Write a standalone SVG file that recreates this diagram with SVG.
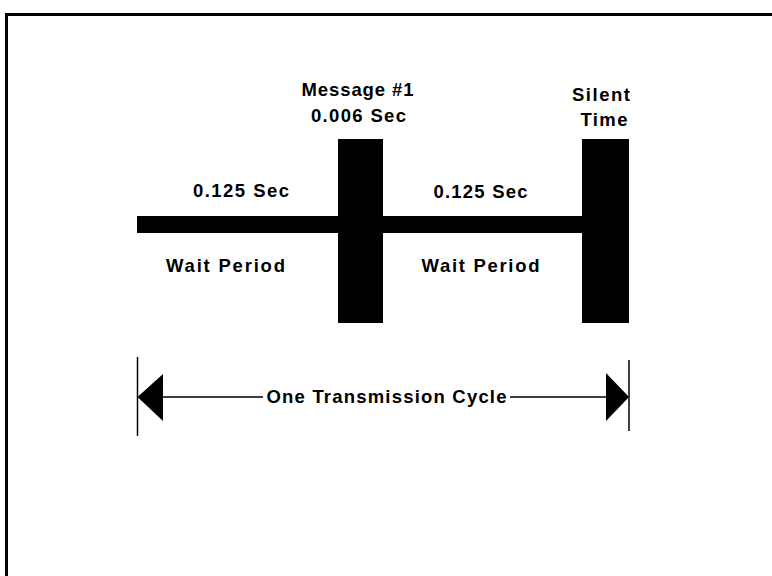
<svg xmlns="http://www.w3.org/2000/svg" width="772" height="576" viewBox="0 0 772 576">
<style>
.t{font-family:"Liberation Sans",Arial,sans-serif;font-weight:bold;font-size:18.5px;fill:#000}
.blk{fill:#000}
.ln{stroke:#000;stroke-width:1.5;fill:none}
</style>
<rect x="0" y="0" width="772" height="576" fill="#fff"/>
<rect x="6.5" y="14.5" width="800" height="600" fill="none" stroke="#000" stroke-width="3"/>
<g id="connectors">
<rect x="137" y="216" width="446" height="17" class="blk"/>
<line x1="137.5" y1="357" x2="137.5" y2="436" class="ln"/>
<line x1="629" y1="360" x2="629" y2="431" class="ln"/>
<line x1="162" y1="397" x2="263" y2="397" class="ln"/>
<line x1="510" y1="397" x2="606" y2="397" class="ln"/>
<polygon points="137.5,397 163,374 163,421" class="blk"/>
<polygon points="629,397 606,373 606,421" class="blk"/>
</g>
<g id="message">
<rect x="338" y="139" width="45" height="184" class="blk"/>
<text class="t" x="357.5" y="96" text-anchor="middle" textLength="112">Message #1</text>
<text class="t" x="358.5" y="121.5" text-anchor="middle" textLength="95">0.006 Sec</text>
</g>
<g id="silent">
<rect x="582" y="139" width="47" height="184" class="blk"/>
<text class="t" x="601" y="100.5" text-anchor="middle" textLength="58">Silent</text>
<text class="t" x="604" y="126" text-anchor="middle" textLength="47">Time</text>
</g>
<g id="wait1">
<text class="t" x="241" y="197" text-anchor="middle" textLength="96">0.125 Sec</text>
<text class="t" x="225.5" y="272" text-anchor="middle" textLength="119">Wait Period</text>
</g>
<g id="wait2">
<text class="t" x="480.5" y="198" text-anchor="middle" textLength="94">0.125 Sec</text>
<text class="t" x="480.5" y="272" text-anchor="middle" textLength="118">Wait Period</text>
</g>
<g id="cycle">
<text class="t" x="386.5" y="403" text-anchor="middle" textLength="240">One Transmission Cycle</text>
</g>
</svg>
